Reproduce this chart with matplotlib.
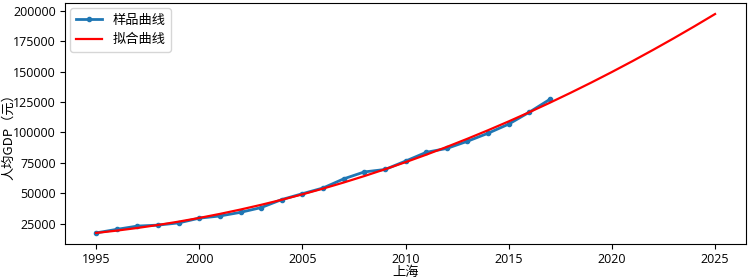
import numpy as np
import matplotlib
matplotlib.use("Agg")
import matplotlib.pyplot as plt

plt.rcParams['font.family'] = ['Noto Sans CJK SC', 'DejaVu Sans']
plt.rcParams['axes.unicode_minus'] = False

years = [1995, 1996, 1997, 1998, 1999, 2000, 2001, 2002, 2003, 2004, 2005, 2006,
         2007, 2008, 2009, 2010, 2011, 2012, 2013, 2014, 2015, 2016, 2017]
gdp = [17400, 20300, 23000, 23800, 25600, 29500, 31300, 34300, 38200, 44800, 49600, 54300,
       61800, 67500, 69500, 76400, 83600, 86800, 92700, 99300, 106800, 116600, 127200]
fit_years = list(range(1995, 2026))
fit_degree = 2

coef = np.polyfit(years, gdp, fit_degree)
fit_vals = np.polyval(coef, fit_years)

fig = plt.figure(figsize=(7.49, 2.8), dpi=100)
ax = fig.add_axes([0.087, 0.129, 0.909, 0.860])
ax.plot(years, gdp, color='#1f77b4', marker='.', markersize=6, linewidth=2, label='样品曲线')
ax.plot(fit_years, fit_vals, color='red', linewidth=1.6, label='拟合曲线')
ax.set_xlabel('上海', fontsize=9.5, labelpad=0)
ax.set_ylabel('人均GDP（元）', fontsize=9.5)
ax.yaxis.set_label_coords(-0.073, 0.46)
for lab in ax.get_xticklabels() + ax.get_yticklabels():
    lab.set_fontfamily(['Open Sans', 'DejaVu Sans'])
    lab.set_fontsize(9)
ax.tick_params(pad=3)
ax.legend(loc='upper left', fontsize=9.5, handlelength=2, borderaxespad=0.4)
fig.savefig('out.png', dpi=100)
